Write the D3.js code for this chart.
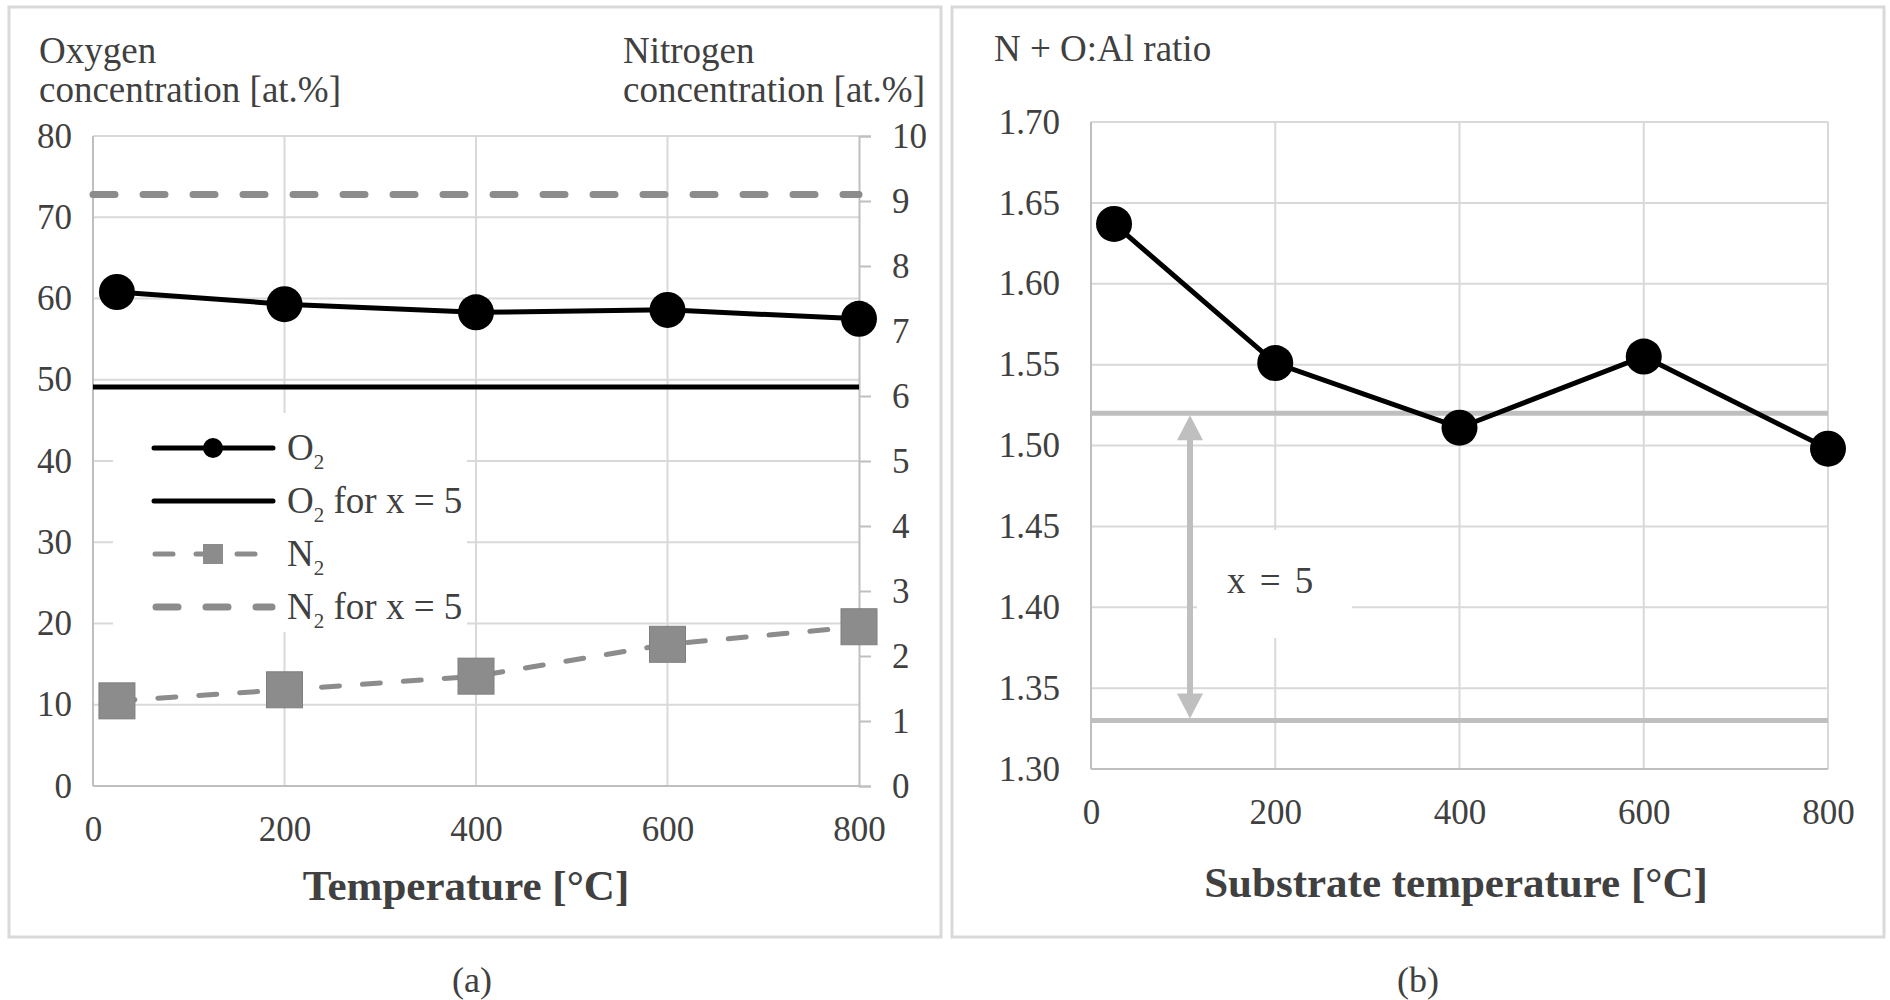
<!DOCTYPE html>
<html>
<head>
<meta charset="utf-8">
<script src="https://cdn.jsdelivr.net/npm/d3@7"></script>
<style>
  body { margin: 0; background: #fff; }
  text { font-family: "Liberation Serif", "Times New Roman", serif; fill: #404040; }
</style>
</head>
<body>
<svg id="chart" width="1890" height="1000"></svg>
<script>
// ---- data ----
var temps = [25, 200, 400, 600, 800];
var o2 = [60.8, 59.3, 58.3, 58.6, 57.5];      // left axis, at.%
var n2 = [1.31, 1.48, 1.69, 2.18, 2.45];      // right axis, at.%
var o2Ref = 49.1;                             // O2 for x = 5
var n2Ref = 9.1;                              // N2 for x = 5
var ratio = [1.637, 1.551, 1.511, 1.555, 1.498];
var ratioBand = [1.52, 1.33];                 // x = 5 limits
var xTicks = [0, 200, 400, 600, 800];
var leftTicks = [0, 10, 20, 30, 40, 50, 60, 70, 80];
var rightTicks = [0, 1, 2, 3, 4, 5, 6, 7, 8, 9, 10];
var ratioTicks = [1.30, 1.35, 1.40, 1.45, 1.50, 1.55, 1.60, 1.65, 1.70];
var legendItems = ["O2", "O2 for x = 5", "N2", "N2 for x = 5"];

var svg = d3.select("#chart");
var GRID = "#d9d9d9", AXIS = "#bfbfbf", N2C = "#8c8c8c";

// panel frames
svg.append("rect").attr("x", 9).attr("y", 7).attr("width", 932).attr("height", 930)
    .attr("fill", "none").attr("stroke", GRID).attr("stroke-width", 3);
svg.append("rect").attr("x", 952).attr("y", 7).attr("width", 932).attr("height", 930)
    .attr("fill", "none").attr("stroke", GRID).attr("stroke-width", 3);

// ****************** panel (a) ***************************
var x = d3.scaleLinear().domain([0, 800]).range([93, 859]);
var yL = d3.scaleLinear().domain([0, 80]).range([786, 136]);
var yR = d3.scaleLinear().domain([0, 10]).range([786, 136]);

var a = svg.append("g");

// gridlines
a.selectAll("line.hgrid").data(leftTicks.slice(1)).enter().append("line")
    .attr("x1", x(0)).attr("x2", x(800))
    .attr("y1", function(d) { return yL(d); }).attr("y2", function(d) { return yL(d); })
    .attr("stroke", GRID).attr("stroke-width", 2);
a.selectAll("line.vgrid").data([200, 400, 600]).enter().append("line")
    .attr("x1", function(d) { return x(d); }).attr("x2", function(d) { return x(d); })
    .attr("y1", yL(80)).attr("y2", yL(0))
    .attr("stroke", GRID).attr("stroke-width", 2);

// axis lines
a.append("line").attr("x1", x(0)).attr("x2", x(0)).attr("y1", yL(80)).attr("y2", yL(0))
    .attr("stroke", AXIS).attr("stroke-width", 2);
a.append("line").attr("x1", x(0)).attr("x2", x(800)).attr("y1", yL(0)).attr("y2", yL(0))
    .attr("stroke", AXIS).attr("stroke-width", 2);

// left axis labels
var axL = a.append("g").attr("transform", "translate(" + x(0) + ",0)")
    .call(d3.axisLeft(yL).tickValues(leftTicks).tickSize(0).tickPadding(21));
axL.select(".domain").remove();
axL.selectAll("text").style("font-size", "35px").attr("font-family", "Liberation Serif").attr("fill", "#404040");

// right axis with outward ticks
var axR = a.append("g").attr("transform", "translate(" + x(800) + ",0)")
    .call(d3.axisRight(yR).tickValues(rightTicks).tickSize(12).tickPadding(21));
axR.select(".domain").attr("stroke", AXIS).attr("stroke-width", 2);
axR.selectAll(".tick line").attr("stroke", AXIS).attr("stroke-width", 2);
axR.selectAll("text").style("font-size", "35px").attr("font-family", "Liberation Serif").attr("fill", "#404040");

// x axis labels
var axX = a.append("g").attr("transform", "translate(0," + yL(0) + ")")
    .call(d3.axisBottom(x).tickValues(xTicks).tickSize(0).tickPadding(30));
axX.select(".domain").remove();
axX.selectAll("text").style("font-size", "35px").attr("font-family", "Liberation Serif").attr("fill", "#404040");

// titles
a.append("text").attr("x", 39).attr("y", 63).style("font-size", "37px").text("Oxygen");
a.append("text").attr("x", 39).attr("y", 102).style("font-size", "37px").text("concentration [at.%]");
a.append("text").attr("x", 623).attr("y", 63).style("font-size", "37px").text("Nitrogen");
a.append("text").attr("x", 623).attr("y", 102).style("font-size", "37px").text("concentration [at.%]");
a.append("text").attr("x", 466).attr("y", 900).attr("text-anchor", "middle")
    .style("font-size", "43px").style("font-weight", "bold").text("Temperature [°C]");
svg.append("text").attr("x", 472).attr("y", 992).attr("text-anchor", "middle")
    .style("font-size", "36px").text("(a)");

// legend background
a.append("rect").attr("x", 113).attr("y", 413).attr("width", 354).attr("height", 219).attr("fill", "#fff");

// reference lines
a.append("line").attr("x1", x(0)).attr("x2", x(800)).attr("y1", yL(o2Ref)).attr("y2", yL(o2Ref))
    .attr("stroke", "#000").attr("stroke-width", 5);
a.append("line").attr("x1", x(0)).attr("x2", x(800)).attr("y1", yR(n2Ref)).attr("y2", yR(n2Ref))
    .attr("stroke", N2C).attr("stroke-width", 7).attr("stroke-linecap", "round")
    .attr("stroke-dasharray", "22 28");

// N2 series
var n2Line = d3.line().x(function(d, i) { return x(temps[i]); }).y(function(d) { return yR(d); });
a.append("path").datum(n2).attr("d", n2Line).attr("fill", "none")
    .attr("stroke", N2C).attr("stroke-width", 5).attr("stroke-linecap", "round")
    .attr("stroke-dasharray", "18 23");
a.selectAll("rect.n2").data(n2).enter().append("rect")
    .attr("x", function(d, i) { return x(temps[i]) - 18; })
    .attr("y", function(d) { return yR(d) - 18; })
    .attr("width", 36).attr("height", 36).attr("fill", N2C).attr("stroke", "#7f7f7f").attr("stroke-width", 1);

// O2 series
var o2Line = d3.line().x(function(d, i) { return x(temps[i]); }).y(function(d) { return yL(d); });
a.append("path").datum(o2).attr("d", o2Line).attr("fill", "none")
    .attr("stroke", "#000").attr("stroke-width", 5);
a.selectAll("circle.o2").data(o2).enter().append("circle")
    .attr("cx", function(d, i) { return x(temps[i]); })
    .attr("cy", function(d) { return yL(d); })
    .attr("r", 18).attr("fill", "#000");

// legend
var legY = [448, 501, 554, 607];
var leg = a.append("g");
leg.append("line").attr("x1", 154).attr("x2", 273).attr("y1", legY[0]).attr("y2", legY[0])
    .attr("stroke", "#000").attr("stroke-width", 5).attr("stroke-linecap", "round");
leg.append("circle").attr("cx", 213).attr("cy", legY[0]).attr("r", 10).attr("fill", "#000");
leg.append("line").attr("x1", 154).attr("x2", 273).attr("y1", legY[1]).attr("y2", legY[1])
    .attr("stroke", "#000").attr("stroke-width", 5).attr("stroke-linecap", "round");
leg.append("line").attr("x1", 155).attr("x2", 272).attr("y1", legY[2]).attr("y2", legY[2])
    .attr("stroke", N2C).attr("stroke-width", 5).attr("stroke-linecap", "round")
    .attr("stroke-dasharray", "18 23");
leg.append("rect").attr("x", 203).attr("y", legY[2] - 10).attr("width", 20).attr("height", 20).attr("fill", N2C);
leg.append("line").attr("x1", 156).attr("x2", 272).attr("y1", legY[3]).attr("y2", legY[3])
    .attr("stroke", N2C).attr("stroke-width", 7).attr("stroke-linecap", "round")
    .attr("stroke-dasharray", "22 28");

legendItems.forEach(function(s, i) {
    var t = leg.append("text").attr("x", 287).attr("y", legY[i] + 12).style("font-size", "37px");
    t.append("tspan").text(s.charAt(0));
    t.append("tspan").attr("dy", 9).style("font-size", "21px").text("2");
    if (s.length > 2) t.append("tspan").attr("dy", -9).text(s.slice(2));
});

// ****************** panel (b) ***************************
var x2 = d3.scaleLinear().domain([0, 800]).range([1091, 1828]);
var y2 = d3.scaleLinear().domain([1.30, 1.70]).range([769, 122]);
var b = svg.append("g");

b.selectAll("line.hgrid").data(ratioTicks.slice(1)).enter().append("line")
    .attr("x1", x2(0)).attr("x2", x2(800))
    .attr("y1", function(d) { return y2(d); }).attr("y2", function(d) { return y2(d); })
    .attr("stroke", GRID).attr("stroke-width", 2);
b.selectAll("line.vgrid").data([200, 400, 600, 800]).enter().append("line")
    .attr("x1", function(d) { return x2(d); }).attr("x2", function(d) { return x2(d); })
    .attr("y1", y2(1.70)).attr("y2", y2(1.30))
    .attr("stroke", GRID).attr("stroke-width", 2);
b.append("line").attr("x1", x2(0)).attr("x2", x2(0)).attr("y1", y2(1.70)).attr("y2", y2(1.30))
    .attr("stroke", AXIS).attr("stroke-width", 2);
b.append("line").attr("x1", x2(0)).attr("x2", x2(800)).attr("y1", y2(1.30)).attr("y2", y2(1.30))
    .attr("stroke", AXIS).attr("stroke-width", 2);

var axY2 = b.append("g").attr("transform", "translate(" + x2(0) + ",0)")
    .call(d3.axisLeft(y2).tickValues(ratioTicks).tickFormat(d3.format(".2f")).tickSize(0).tickPadding(31));
axY2.select(".domain").remove();
axY2.selectAll("text").style("font-size", "35px").attr("font-family", "Liberation Serif").attr("fill", "#404040");

var axX2 = b.append("g").attr("transform", "translate(0," + y2(1.30) + ")")
    .call(d3.axisBottom(x2).tickValues(xTicks).tickSize(0).tickPadding(30));
axX2.select(".domain").remove();
axX2.selectAll("text").style("font-size", "35px").attr("font-family", "Liberation Serif").attr("fill", "#404040");

b.append("text").attr("x", 994).attr("y", 61).style("font-size", "37px").text("N + O:Al ratio");
b.append("text").attr("x", 1456).attr("y", 897).attr("text-anchor", "middle")
    .style("font-size", "43px").style("font-weight", "bold").text("Substrate temperature [°C]");
svg.append("text").attr("x", 1418).attr("y", 992).attr("text-anchor", "middle")
    .style("font-size", "36px").text("(b)");

// white label box for x = 5
b.append("rect").attr("x", 1197).attr("y", 530).attr("width", 155).attr("height", 108).attr("fill", "#fff");
b.append("text").attr("x", 1227).attr("y", 593).style("font-size", "37px").style("word-spacing", "5px").text("x = 5");

// band limits
b.selectAll("line.band").data(ratioBand).enter().append("line")
    .attr("x1", x2(0)).attr("x2", x2(800))
    .attr("y1", function(d) { return y2(d); }).attr("y2", function(d) { return y2(d); })
    .attr("stroke", AXIS).attr("stroke-width", 5);

// double arrow
var ax = 1190, aTop = y2(ratioBand[0]), aBot = y2(ratioBand[1]);
b.append("line").attr("x1", ax).attr("x2", ax).attr("y1", aTop + 20).attr("y2", aBot - 20)
    .attr("stroke", AXIS).attr("stroke-width", 6);
b.append("path").attr("d", "M" + ax + "," + (aTop + 2) + " L" + (ax - 13) + "," + (aTop + 27) + " L" + (ax + 13) + "," + (aTop + 27) + "Z")
    .attr("fill", AXIS);
b.append("path").attr("d", "M" + ax + "," + (aBot - 2) + " L" + (ax - 13) + "," + (aBot - 27) + " L" + (ax + 13) + "," + (aBot - 27) + "Z")
    .attr("fill", AXIS);

// ratio series
var rLine = d3.line().x(function(d, i) { return x2(temps[i]); }).y(function(d) { return y2(d); });
b.append("path").datum(ratio).attr("d", rLine).attr("fill", "none")
    .attr("stroke", "#000").attr("stroke-width", 5);
b.selectAll("circle.r").data(ratio).enter().append("circle")
    .attr("cx", function(d, i) { return x2(temps[i]); })
    .attr("cy", function(d) { return y2(d); })
    .attr("r", 18).attr("fill", "#000");
</script>
</body>
</html>
